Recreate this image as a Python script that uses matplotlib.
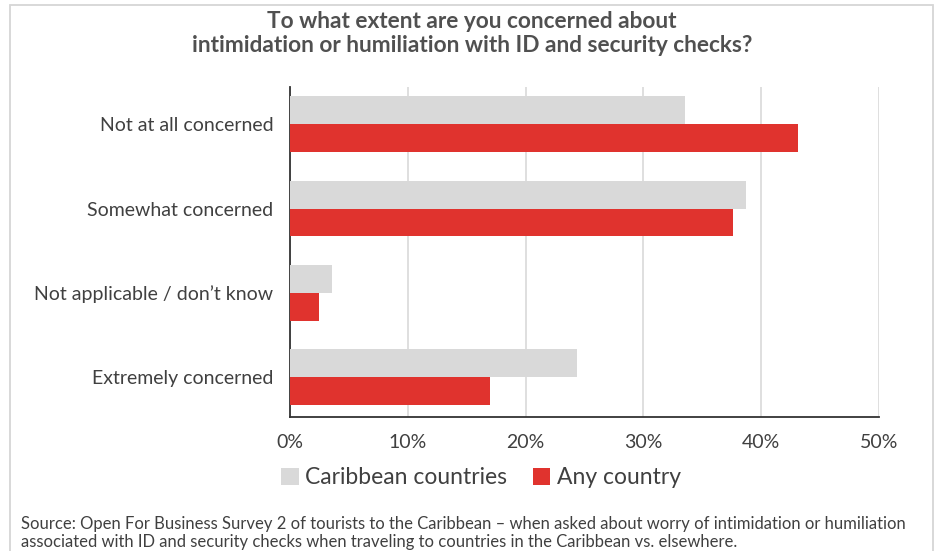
import matplotlib.pyplot as plt
import matplotlib.patches as mpatches
import numpy as np

# survey answers, top to bottom
categories = ['Not at all concerned', 'Somewhat concerned',
              'Not applicable / don\u2019t know', 'Extremely concerned']
caribbean = [33.5, 38.7, 3.6, 24.4]
any_country = [43.1, 37.6, 2.5, 17.0]
xticks = [0, 10, 20, 30, 40, 50]

grey = '#d9d9d9'
red = '#e0332e'
text_col = '#404040'

plt.rcParams['font.family'] = ['Lato', 'DejaVu Sans']

fig = plt.figure(figsize=(9.41, 5.51), dpi=100)

# thin frame round the chart
fig.patches.append(mpatches.Rectangle((10 / 941, -0.1), 923 / 941, 1.1 - 5 / 551,
                                      transform=fig.transFigure, fill=False,
                                      edgecolor='#d6d6d6', linewidth=1.3))

ax = fig.add_axes([290 / 941, 1 - 417 / 551, 589 / 941, 330 / 551])

y = np.arange(len(categories))
h = 0.33
ax.barh(y - h / 2, caribbean, height=h, color=grey, label='Caribbean countries', zorder=3)
ax.barh(y + h / 2, any_country, height=h, color=red, label='Any country', zorder=3)

ax.set_xlim(0, 50)
ax.set_ylim(len(categories) - 0.53, -0.44)
ax.set_xticks(xticks)
ax.set_xticklabels([f'{t}%' for t in xticks], fontsize=14, color=text_col)
ax.set_yticks(y)
ax.set_yticklabels(categories, fontsize=14, color=text_col)
ax.tick_params(length=0)
ax.tick_params(axis='x', pad=12)
ax.tick_params(axis='y', pad=12)
ax.grid(axis='x', color='#d9d9d9', linewidth=1.2, zorder=0)
for s in ['top', 'right']:
    ax.spines[s].set_visible(False)
for s in ['left', 'bottom']:
    ax.spines[s].set_color('#333333')
    ax.spines[s].set_linewidth(1.3)

fig.text(472 / 941, 1 - 21 / 551, 'To what extent are you concerned about',
         ha='center', va='center', fontsize=16.3, fontweight='bold', color='#505050')
fig.text(472 / 941, 1 - 46 / 551, 'intimidation or humiliation with ID and security checks?',
         ha='center', va='center', fontsize=16.3, fontweight='bold', color='#505050')

leg = fig.legend(loc='center', bbox_to_anchor=(481 / 941, 1 - 478 / 551), ncol=2,
                 frameon=False, handlelength=0.75, handleheight=0.75,
                 handletextpad=0.3, columnspacing=1.1,
                 prop={'size': 16.5})
for t in leg.get_texts():
    t.set_color(text_col)

fig.text(21 / 941, 1 - 524 / 551,
         'Source: Open For Business Survey 2 of tourists to the Caribbean \u2013 when asked about worry of intimidation or humiliation',
         ha='left', va='center', fontsize=12, color=text_col)
fig.text(21 / 941, 1 - 542 / 551,
         'associated with ID and security checks when traveling to countries in the Caribbean vs. elsewhere.',
         ha='left', va='center', fontsize=12, color=text_col)

fig.savefig('out.png', dpi=100)
